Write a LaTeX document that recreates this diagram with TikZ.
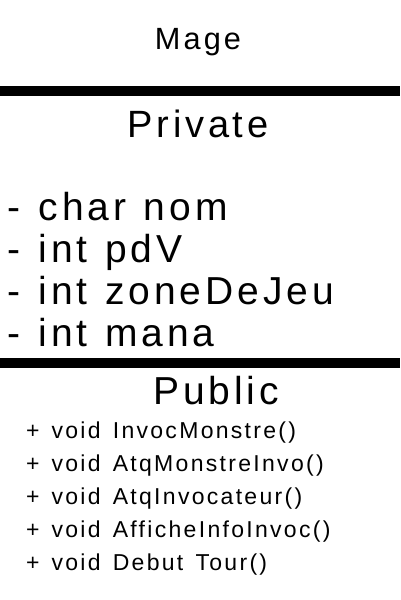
\documentclass[tikz,border=0pt]{standalone}
\usepackage{fontspec}
\setmainfont{Liberation Sans}[LetterSpace=10, WordSpace=1.4]
\newfontfamily\attrfont{Liberation Sans}[LetterSpace=10, WordSpace=1.2]
\tikzset{
  txt/.style={inner sep=0pt, outer sep=0pt},
  bar/.style={line width=10pt, black},
  ftitle/.style={txt, font=\fontsize{30.7}{36}\selectfont},
  fhead/.style={txt, font=\fontsize{38}{44}\selectfont},
  fattr/.style={txt, font=\attrfont\fontsize{39}{44}\selectfont, anchor=base west},
  fmeth/.style={txt, font=\fontsize{23}{28}\selectfont, anchor=base west},
}
\begin{document}
\begin{tikzpicture}[x=1pt,y=-1pt]
\useasboundingbox[fill=white] (0,0) rectangle (400,600);
\node[ftitle, anchor=base] (mage) at (198,49) {Mage};
\coordinate (b1l) at (0,91);
\coordinate (b1r) at (400,91);
\draw[bar] (b1l) -- (b1r);
\node[fhead, anchor=base] (priv) at (198,137) {Private};
\node[fattr] (a1) at (8,220) {- char nom};
\node[fattr] (a2) at (8,262) {- int pdV};
\node[fattr] (a3) at (8,304) {- int zoneDeJeu};
\node[fattr] (a4) at (8,346) {- int mana};
\coordinate (b2l) at (0,363);
\coordinate (b2r) at (400,363);
\draw[bar] (b2l) -- (b2r);
\node[fhead, font=\fontsize{39}{44}\selectfont, anchor=base] (pub) at (216,404) {Public};
\node[fmeth] (m1) at (26,438) {+ void InvocMonstre()};
\node[fmeth] (m2) at (26,471) {+ void AtqMonstreInvo()};
\node[fmeth] (m3) at (26,504) {+ void AtqInvocateur()};
\node[fmeth] (m4) at (26,537) {+ void AfficheInfoInvoc()};
\node[fmeth] (m5) at (26,570) {+ void Debut Tour()};
\end{tikzpicture}
\end{document}
